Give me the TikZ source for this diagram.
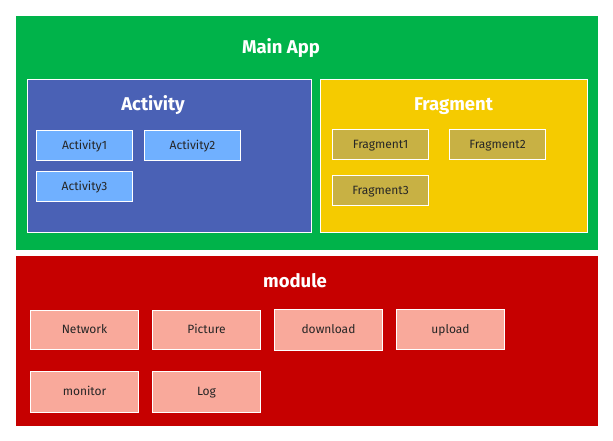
\documentclass[tikz,border=0pt]{standalone}
\usepackage{fontspec}
\setmainfont{Fira Sans}
\definecolor{appgreen}{HTML}{00B34A}
\definecolor{actblue}{HTML}{4A61B5}
\definecolor{actlight}{HTML}{70B0FF}
\definecolor{fragyellow}{HTML}{F5CB00}
\definecolor{fragolive}{HTML}{C8B144}
\definecolor{modred}{HTML}{C60000}
\definecolor{modpink}{HTML}{F9A99B}
\tikzset{
  x=1pt, y=-1pt,
  panel/.style={draw=white, line width=1pt},
  title/.style={text=white, font=\fontsize{18.5}{21}\selectfont\bfseries, inner sep=0pt,
    text height=12.8pt, text depth=0pt},
  item/.style={draw=white, line width=1pt, font=\fontsize{12}{14}\selectfont, text=black!85,
    inner sep=0pt, text height=8.3pt, text depth=0pt},
  small/.style={item, minimum width=96pt, minimum height=30pt},
  wide/.style={item, fill=modpink, minimum width=108pt}
}
\begin{document}
\begin{tikzpicture}
\useasboundingbox (0,0) rectangle (613,441);
\fill[white] (0,0) rectangle (613,441);

% main application area
\fill[appgreen] (16,16) rectangle (598,250);
\node[title] (mainapp) at (281,47) {Main App};

% activity panel
\draw[panel, fill=actblue] (27.5,79.5) rectangle (311.5,232.5);
\node[title] (activity) at (153,104.5) {Activity};
\node[small, fill=actlight] (act1) at (84.5,145.5) {Activity1};
\node[small, fill=actlight] (act2) at (192.5,145.5) {Activity2};
\node[small, fill=actlight] (act3) at (84.5,186.5) {Activity3};

% fragment panel
\draw[panel, fill=fragyellow] (320.5,79.5) rectangle (587.5,232.5);
\node[title] (fragment) at (453.5,104.5) {Fragment};
\node[small, fill=fragolive] (frag1) at (380.5,144.5) {Fragment1};
\node[small, fill=fragolive] (frag2) at (497.5,144.5) {Fragment2};
\node[small, fill=fragolive] (frag3) at (380.5,190.5) {Fragment3};

% module area
\fill[modred] (16,256) rectangle (598,426);
\node[title] (module) at (295,281) {module};
\node[wide, minimum height=39pt] (network) at (84.5,329.5) {Network};
\node[wide, minimum height=39pt] (picture) at (206.5,329.5) {Picture};
\node[wide, minimum height=41pt] (download) at (328.5,329.5) {download};
\node[wide, minimum height=40pt] (upload) at (450.5,329.5) {upload};
\node[wide, minimum height=41pt] (monitor) at (84.5,391.5) {monitor};
\node[wide, minimum height=41pt] (log) at (206.5,391.5) {Log};
\end{tikzpicture}
\end{document}
